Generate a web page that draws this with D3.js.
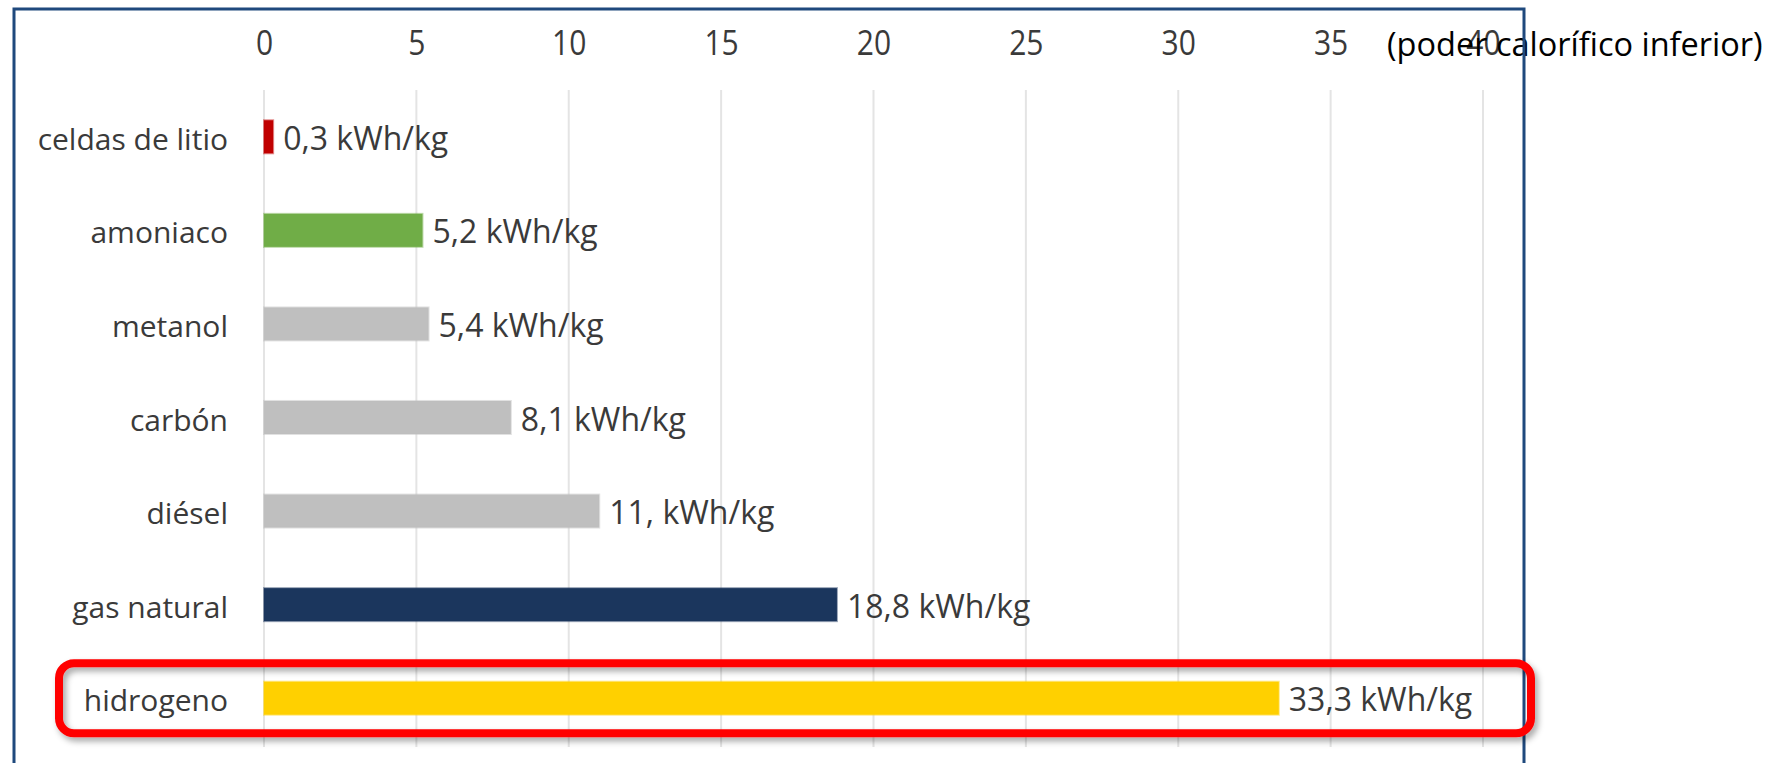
<!DOCTYPE html>
<html>
<head>
<meta charset="utf-8">
<script src="https://cdn.jsdelivr.net/npm/d3@7/dist/d3.min.js"></script>
<style>
  html, body { margin: 0; padding: 0; background: #ffffff; }
  svg { display: block; }
</style>
</head>
<body>
<svg id="chart" width="1770" height="763"></svg>
<script>
// Energy content per kilogram of each energy carrier (kWh/kg)
const categories = ["celdas de litio", "amoniaco", "metanol", "carbón", "diésel", "gas natural", "hidrogeno"];
const values = [0.3, 5.2, 5.4, 8.1, 11, 18.8, 33.3];
const valueLabels = ["0,3 kWh/kg", "5,2 kWh/kg", "5,4 kWh/kg", "8,1 kWh/kg", "11, kWh/kg", "18,8 kWh/kg", "33,3 kWh/kg"];
const barColors = ["#C00000", "#70AD47", "#BFBFBF", "#BFBFBF", "#BFBFBF", "#1B365D", "#FFD000"];
const tickValues = [0, 5, 10, 15, 20, 25, 30, 35, 40];
const axisNote = "(poder calorífico inferior)";
const highlighted = "hidrogeno";

const svg = d3.select("#chart");
const W = 1770, H = 763;
const FONT = "'Open Sans', 'Noto Sans', sans-serif";
const TEXT = "#3A3A3A";

const x = d3.scaleLinear().domain([0, 40]).range([264, 1483]);
const y = d3.scaleBand().domain(categories).range([90, 745]).paddingInner(0.647).paddingOuter(0.3235);

const defs = svg.append("defs");
const shadow = defs.append("filter").attr("id", "boxShadow")
  .attr("x", "-5%").attr("y", "-50%").attr("width", "110%").attr("height", "200%");
shadow.append("feDropShadow").attr("dx", 3).attr("dy", 4).attr("stdDeviation", 3)
  .attr("flood-color", "#000").attr("flood-opacity", 0.35);

// vertical gridlines
svg.append("g").selectAll("line").data(tickValues).join("line")
  .attr("x1", d => x(d)).attr("x2", d => x(d))
  .attr("y1", y.range()[0]).attr("y2", y.range()[1] + 2)
  .attr("stroke", "#E4E4E4").attr("stroke-width", 2);

// value axis along the top
const axis = svg.append("g")
  .attr("transform", "translate(0,55)")
  .call(d3.axisTop(x).tickValues(tickValues).tickSize(0).tickPadding(0).tickFormat(d3.format("d")));
axis.select(".domain").remove();
axis.attr("color", TEXT);
axis.selectAll("text")
  .attr("font-family", FONT).attr("font-size", 30)
  .attr("dy", 0).attr("y", 0)
  .attr("transform", "scale(1,1.17)");

// bars
svg.append("g").selectAll("rect").data(categories).join("rect")
  .attr("x", x(0))
  .attr("y", d => y(d))
  .attr("width", (d, i) => x(values[i]) - x(0))
  .attr("height", y.bandwidth())
  .attr("fill", (d, i) => barColors[i])
  .attr("stroke", (d, i) => barColors[i])
  .attr("stroke-opacity", 0.45)
  .attr("stroke-width", 2);

// category labels
svg.append("g").selectAll("text").data(categories).join("text")
  .attr("x", x(0) - 36)
  .attr("y", d => y(d) + y.bandwidth() / 2 + 13)
  .attr("text-anchor", "end")
  .attr("font-family", FONT).attr("font-size", 30)
  .attr("fill", TEXT)
  .text(d => d);

// value labels at the end of each bar
svg.append("g").selectAll("text").data(categories).join("text")
  .attr("x", (d, i) => x(values[i]) + 10)
  .attr("y", d => y(d) + y.bandwidth() / 2 + 13)
  .attr("font-family", FONT).attr("font-size", 32)
  .attr("fill", TEXT)
  .text((d, i) => valueLabels[i]);

// unit note next to the axis
svg.append("text")
  .attr("x", 1387).attr("y", 56)
  .attr("font-family", FONT).attr("font-size", 32.5)
  .attr("fill", "#000")
  .text(axisNote);

// outer frame
svg.append("path")
  .attr("d", `M14,${H + 5} L14,9 L1524,9 L1524,${H + 5}`)
  .attr("fill", "none").attr("stroke", "#1F497D").attr("stroke-width", 3);

// highlight box around the hydrogen row
const hy = y(highlighted) + y.bandwidth() / 2;
svg.append("rect")
  .attr("x", 59).attr("y", hy - 35)
  .attr("width", 1531 - 59).attr("height", 70)
  .attr("rx", 15).attr("ry", 15)
  .attr("fill", "none").attr("stroke", "#FF0000").attr("stroke-width", 8)
  .attr("filter", "url(#boxShadow)");
</script>
</body>
</html>
